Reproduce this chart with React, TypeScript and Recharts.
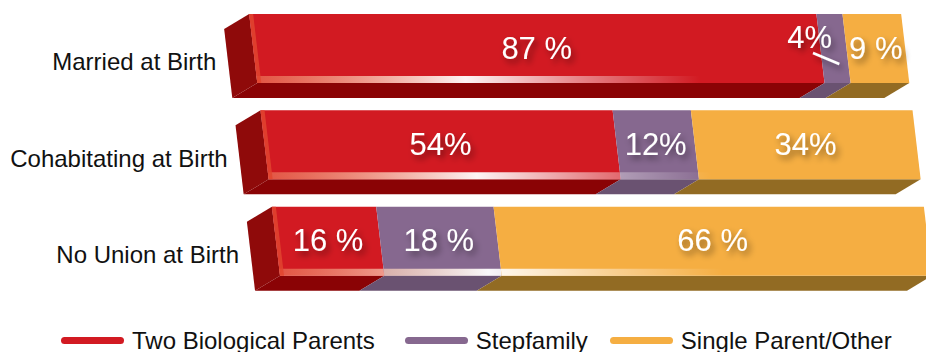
import { BarChart, Bar, XAxis, YAxis, Legend, LabelList } from "recharts";

const categories = ["Married at Birth", "Cohabitating at Birth", "No Union at Birth"];
const twoBiological = [87, 54, 16];
const stepfamily = [4, 12, 18];
const singleParent = [9, 34, 66];
const twoBiologicalLabels = ["87 %", "54%", "16 %"];
const stepfamilyLabels = ["4%", "12%", "18 %"];
const singleParentLabels = ["9 %", "34%", "66 %"];
const seriesNames = ["Two Biological Parents", "Stepfamily", "Single Parent/Other"];

const FONT = "'Liberation Sans', Arial, Helvetica, sans-serif";
// fake perspective: the whole bar block leans right as it goes down
const SKEW = 0.118;
const SKEW_DEG = (Math.atan(SKEW) * 180) / Math.PI;
const DEPTH_X = -25;
const DEPTH_Y = 15;
const PLOT_LEFT = 247.5;
const PLOT_RIGHT = 899.5;

const COLORS = {
  two: { front: "#d21a22", side: "#8a0305" },
  step: { front: "#86688f", side: "#6a5271" },
  single: { front: "#f5ae42", side: "#926b23" },
};
const LEFT_FACE = "#8f0a0a";

const data = categories.map((name, i) => ({
  name,
  two: twoBiological[i],
  step: stepfamily[i],
  single: singleParent[i],
}));

const makeShape = (front: string, side: string, first: boolean) => (props: any) => {
  const { x, y, width, height } = props;
  const dx = DEPTH_X - SKEW * DEPTH_Y;
  const yb = y + height;
  return (
    <g transform={`skewX(${SKEW_DEG})`}>
      <polygon
        points={`${x},${yb} ${x + width},${yb} ${x + width + dx},${yb + DEPTH_Y} ${x + dx},${yb + DEPTH_Y}`}
        fill={side}
      />
      {first && (
        <polygon
          points={`${x},${y} ${x},${yb} ${x + dx},${yb + DEPTH_Y} ${x + dx},${y + DEPTH_Y}`}
          fill={LEFT_FACE}
        />
      )}
      <rect x={x} y={y} width={width} height={height} fill={front} />
      <rect x={x} y={yb - 7} width={width} height={7} fill="url(#gloss)" />
      {first && <rect x={x} y={y} width={4} height={height} fill="#e2452f" opacity={0.85} />}
    </g>
  );
};

const makeLabel = (texts: string[]) => (props: any) => {
  const { x, y, width, height, index, value } = props;
  const cy = Number(y) + Number(height) / 2;
  if (Number(value) < 6) {
    // too thin: push the label left and point at the segment
    const by = cy - 0.5;
    const sx = Number(x);
    return (
      <g filter="url(#txtShadow)">
        <text x={sx + SKEW * (by - 11) + 13} y={by} textAnchor="end" fill="#fff" fontSize={31} fontFamily={FONT}>
          {texts[index]}
        </text>
        <line
          x1={sx + SKEW * (cy + 4.5) - 8}
          y1={cy + 4.5}
          x2={sx + SKEW * (cy + 15.5) + 17}
          y2={cy + 15.5}
          stroke="#fff"
          strokeWidth={2.5}
        />
      </g>
    );
  }
  const by = cy + 10;
  const cx = Number(x) + Number(width) / 2 + SKEW * (by - 11);
  return (
    <text x={cx} y={by} textAnchor="middle" fill="#fff" fontSize={31} fontFamily={FONT} filter="url(#txtShadow)">
      {texts[index]}
    </text>
  );
};

const CategoryTick = (props: any) => {
  const { y, payload } = props;
  const by = y + 22;
  return (
    <text x={PLOT_LEFT - 38.5 + SKEW * (by - 8)} y={by} textAnchor="end" fill="#111" fontSize={24} fontFamily={FONT}>
      {payload.value}
    </text>
  );
};

const LegendContent = (props: any) => {
  const items = [...(props.payload || [])].sort(
    (a: any, b: any) => seriesNames.indexOf(a.value) - seriesNames.indexOf(b.value)
  );
  return (
    <div style={{ display: "flex", alignItems: "center", height: 24, paddingLeft: 61, fontFamily: FONT }}>
      {items.map((entry: any, i: number) => (
        <div key={entry.value} style={{ display: "flex", alignItems: "center", marginRight: i === 0 ? 30 : 22 }}>
          <span style={{ display: "inline-block", width: 63, height: 7, borderRadius: 4, background: entry.color, marginRight: 8 }} />
          <span style={{ fontSize: 24, lineHeight: "24px", color: "#111" }}>{entry.value}</span>
        </div>
      ))}
    </div>
  );
};

export default function App() {
  return (
    <div style={{ width: 926, height: 352 }}>
      <style>{`body{margin:0}`}</style>
      <BarChart
        width={926}
        height={352}
        data={data}
        layout="vertical"
        margin={{ top: 0, right: 926 - PLOT_RIGHT, left: 0, bottom: 39 }}
        style={{ fontFamily: FONT }}
      >
        <defs>
          <linearGradient id="gloss" gradientUnits="userSpaceOnUse" x1={PLOT_LEFT} y1={0} x2={PLOT_RIGHT} y2={0}>
            <stop offset="0" stopColor="#f7a070" stopOpacity={0.45} />
            <stop offset="0.32" stopColor="#ffffff" stopOpacity={0.95} />
            <stop offset="0.5" stopColor="#ffffff" stopOpacity={0.45} />
            <stop offset="0.68" stopColor="#ffffff" stopOpacity={0} />
            <stop offset="1" stopColor="#ffffff" stopOpacity={0} />
          </linearGradient>
          <filter id="txtShadow" x="-30%" y="-40%" width="170%" height="200%">
            <feDropShadow dx="3" dy="4" stdDeviation="3" floodColor="#000" floodOpacity="0.45" />
          </filter>
        </defs>
        <XAxis type="number" domain={[0, 100]} hide />
        <YAxis
          type="category"
          dataKey="name"
          width={PLOT_LEFT}
          axisLine={false}
          tickLine={false}
          tick={<CategoryTick />}
        />
        <Legend
          verticalAlign="bottom"
          content={<LegendContent />}
          wrapperStyle={{ top: 328.7, left: 0, width: 926, height: 24 }}
        />
        <Bar dataKey="two" name={seriesNames[0]} stackId="a" barSize={69} fill={COLORS.two.front}
          shape={makeShape(COLORS.two.front, COLORS.two.side, true)} isAnimationActive={false}>
          <LabelList dataKey="two" content={makeLabel(twoBiologicalLabels)} />
        </Bar>
        <Bar dataKey="step" name={seriesNames[1]} stackId="a" barSize={69} fill={COLORS.step.front}
          shape={makeShape(COLORS.step.front, COLORS.step.side, false)} isAnimationActive={false}>
          <LabelList dataKey="step" content={makeLabel(stepfamilyLabels)} />
        </Bar>
        <Bar dataKey="single" name={seriesNames[2]} stackId="a" barSize={69} fill={COLORS.single.front}
          shape={makeShape(COLORS.single.front, COLORS.single.side, false)} isAnimationActive={false}>
          <LabelList dataKey="single" content={makeLabel(singleParentLabels)} />
        </Bar>
      </BarChart>
    </div>
  );
}
